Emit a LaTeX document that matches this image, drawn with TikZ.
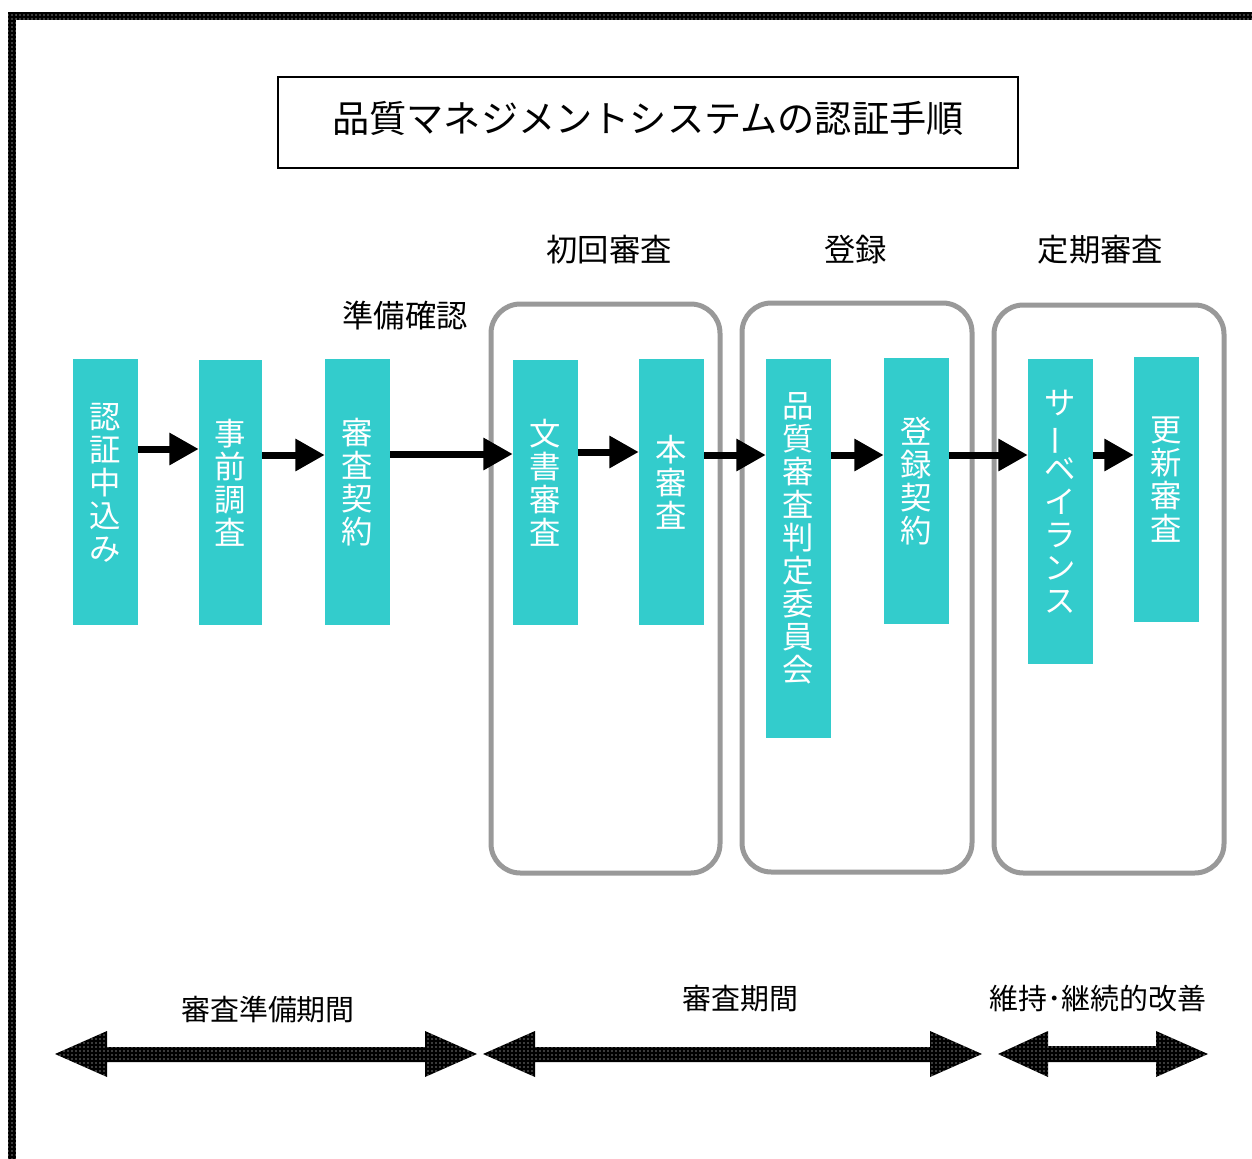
\documentclass[tikz,border=0pt]{standalone}
\usepackage{fontspec}
\setmainfont{Noto Sans CJK JP}
\usetikzlibrary{arrows.meta,patterns,calc}
\definecolor{tealbox}{HTML}{33CCCC}
\definecolor{frameg}{HTML}{999999}
\tikzset{
  stagebox/.style={fill=tealbox, draw=none, minimum width=48.75pt, inner sep=0pt},
  vtext/.style={text=white, align=center, font=\fontsize{23.5}{24.75}\selectfont, inner sep=0pt},
  flow/.style={line width=5.25pt, -{Triangle[length=22pt,width=23pt]}},
  groupframe/.style={draw=frameg, line width=3.75pt, rounded corners=22pt},
  headtext/.style={font=\fontsize{23.5}{28}\selectfont, inner sep=0pt},
  spantext/.style={font=\fontsize{21.7}{26}\selectfont, inner sep=0pt},
  dotfill/.style={preaction={fill=black}, pattern=dots, pattern color=white},
}
\newcommand{\vbar}{\rotatebox[origin=c]{90}{ー}}
\begin{document}
\begin{tikzpicture}[x=0.75pt,y=-0.75pt]
\useasboundingbox (0,0) rectangle (1252,1159);
\begin{scope}
\clip (0,0) rectangle (1252,1159);
% outer dotted frame
\path[dotfill] (8,12) rectangle (1270,20);
\path[dotfill] (8,12) rectangle (16,1180);
\end{scope}

% title
\node[draw=black, line width=1.5pt, minimum width=555pt, minimum height=68.25pt, inner sep=0pt] (title) at (648,122.5) {};
\node[font=\fontsize{27.9}{30}\selectfont, inner sep=0pt] (titletext) at (648,118) {品質マネジメントシステムの認証手順};

% group frames
\draw[groupframe] (491,304) rectangle (720,873);
\draw[groupframe] (742,303) rectangle (972,872);
\draw[groupframe] (994,305) rectangle (1224,873);

% headers
\node[headtext] (h1) at (609,250) {初回審査};
\node[headtext] (h2) at (855.5,250) {登録};
\node[headtext] (h3) at (1100.5,250) {定期審査};
\node[headtext] (h0) at (405,316) {準備確認};

% stage boxes
\node[stagebox, minimum height=199.5pt] (b1) at (105,492) {};
\node[stagebox, minimum height=198.75pt, minimum width=47.25pt] (b2) at (230.5,492.5) {};
\node[stagebox, minimum height=199.5pt] (b3) at (357.5,492) {};
\node[stagebox, minimum height=198.75pt] (b4) at (545.5,492.5) {};
\node[stagebox, minimum height=199.5pt] (b5) at (671.5,492) {};
\node[stagebox, minimum height=284.25pt] (b6) at (798.5,548.5) {};
\node[stagebox, minimum height=199.5pt] (b7) at (916.5,491) {};
\node[stagebox, minimum height=228.75pt] (b8) at (1060.5,511.5) {};
\node[stagebox, minimum height=198.75pt] (b9) at (1166.5,489.5) {};

\node[vtext] (t1) at ($(b1.center)+(0,-9)$) {認\\証\\中\\込\\み};
\node[vtext] (t2) at ($(b2.center)+(0,-10)$) {事\\前\\調\\査};
\node[vtext] (t3) at ($(b3.center)+(0,-10)$) {審\\査\\契\\約};
\node[vtext] (t4) at ($(b4.center)+(0,-10)$) {文\\書\\審\\査};
\node[vtext] (t5) at ($(b5.center)+(0,-10)$) {本\\審\\査};
\node[vtext] (t6) at ($(b6.center)+(0,-10)$) {品\\質\\審\\査\\判\\定\\委\\員\\会};
\node[vtext] (t7) at ($(b7.center)+(0,-10)$) {登\\録\\契\\約};
\node[vtext] (t8) at ($(b8.center)+(0,-10)$) {サ\\\vbar\\ベ\\イ\\ラ\\ン\\ス};
\node[vtext] (t9) at ($(b9.center)+(0,-10)$) {更\\新\\審\\査};

% flow arrows
\draw[flow] (b1.east |- 0,449) -- (b2.west |- 0,449);
\draw[flow] (b2.east |- 0,455) -- (b3.west |- 0,455);
\draw[flow] (b3.east |- 0,454) -- (b4.west |- 0,454);
\draw[flow] (b4.east |- 0,452) -- (b5.west |- 0,452);
\draw[flow] (b5.east |- 0,455) -- (b6.west |- 0,455);
\draw[flow] (b6.east |- 0,455) -- (b7.west |- 0,455);
\draw[flow] (b7.east |- 0,455) -- (b8.west |- 0,455);
\draw[flow] (b8.east |- 0,455) -- (b9.west |- 0,455);

% period labels
\node[spantext] (p1) at (268,1009) {審査準備期間};
\node[spantext] (p2) at (740.5,999) {審査期間};
\node[spantext] (p3) at (1098,998) {維持･継続的改善};

% period double arrows
\path[dotfill] (55,1054) -- (107,1031) -- (107,1047) -- (425,1047) -- (425,1031) -- (477,1054)
  -- (425,1077) -- (425,1062) -- (107,1062) -- (107,1077) -- cycle;
\path[dotfill] (483,1054) -- (535,1031) -- (535,1047) -- (930,1047) -- (930,1031) -- (982,1054)
  -- (930,1077) -- (930,1062) -- (535,1062) -- (535,1077) -- cycle;
\path[dotfill] (998,1054) -- (1048,1031) -- (1048,1046) -- (1156,1046) -- (1156,1031) -- (1208,1054)
  -- (1156,1077) -- (1156,1062) -- (1048,1062) -- (1048,1077) -- cycle;
\end{tikzpicture}
\end{document}
